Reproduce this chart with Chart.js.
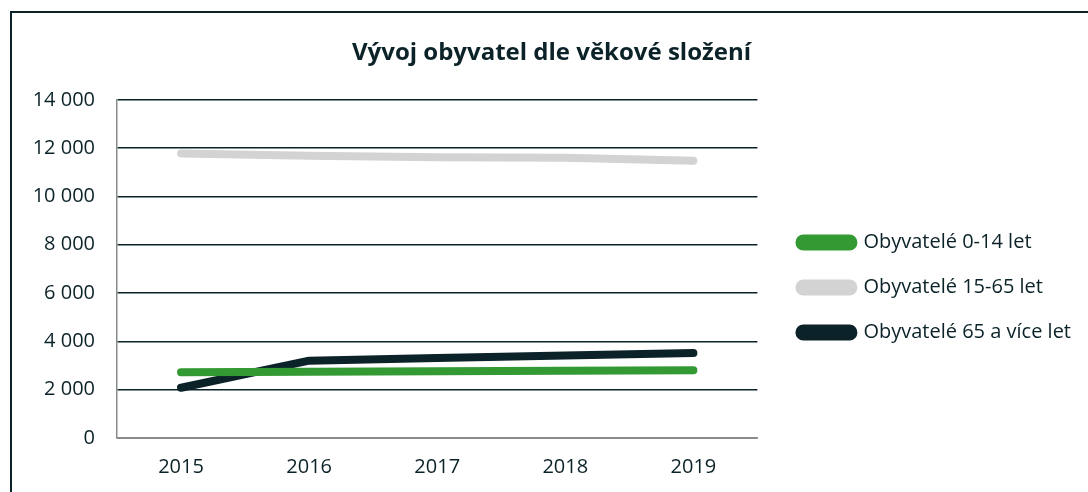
<!DOCTYPE html>
<html>
<head>
<meta charset="utf-8">
<script src="https://cdn.jsdelivr.net/npm/chart.js@4.4.0/dist/chart.umd.min.js"></script>
<style>
  html, body { margin: 0; padding: 0; background: #fff; }
  #ramecek {
    position: absolute; left: 10px; top: 11px;
    width: 1200px; height: 600px;
    border: 2px solid #0b2228;
  }
  #obal { position: absolute; left: 0; top: 0; width: 1088px; height: 492px; }
</style>
</head>
<body>
<div id="ramecek"></div>
<div id="obal"><canvas id="graf"></canvas></div>
<script>
// data
const roky = ["2015", "2016", "2017", "2018", "2019"];
const deti = [2720, 2740, 2760, 2780, 2800];
const dospeli = [11780, 11680, 11620, 11600, 11480];
const seniori = [2080, 3200, 3310, 3420, 3520];

const TMAVA = "#0b2228";
const font = "'Open Sans', sans-serif";

function formatCislo(v) {
  // mezera jako oddělovač tisíců
  return String(v).replace(/\B(?=(\d{3})+(?!\d))/g, " ");
}

const ctx = document.getElementById("graf").getContext("2d");

new Chart(ctx, {
  type: "line",
  data: {
    labels: roky,
    datasets: [
      { label: "Obyvatelé 0-14 let", data: deti, borderColor: "#339933", backgroundColor: "#339933" },
      { label: "Obyvatelé 15-65 let", data: dospeli, borderColor: "#d3d3d3", backgroundColor: "#d3d3d3" },
      { label: "Obyvatelé 65 a více let", data: seniori, borderColor: TMAVA, backgroundColor: TMAVA }
    ].map((d) => Object.assign(d, {
      borderWidth: 8,
      borderCapStyle: "round",
      borderJoinStyle: "round",
      pointRadius: 0,
      tension: 0
    }))
  },
  options: {
    responsive: true,
    maintainAspectRatio: false,
    animation: false,
    layout: { padding: { left: 22, right: 7, top: 0, bottom: 0 } },
    plugins: {
      title: {
        display: true,
        text: "Vývoj obyvatel dle věkové složení",
        color: TMAVA,
        font: { family: font, size: 24, weight: "bold" },
        padding: { top: 39, bottom: 32 }
      },
      legend: {
        position: "right",
        maxWidth: 316,
        title: { display: true, text: " ", font: { size: 20 }, padding: { top: 59, bottom: 0 } },
        labels: {
          color: TMAVA,
          font: { family: font, size: 20 },
          boxWidth: 54,
          boxHeight: 8,
          useBorderRadius: true,
          borderRadius: 4,
          padding: 25
        }
      },
      tooltip: { enabled: false }
    },
    scales: {
      x: {
        offset: true,
        afterFit: (scale) => { scale.height = 54; },
        grid: { display: false, drawTicks: false },
        border: { color: "#8a8a8a", width: 1.5 },
        ticks: { color: TMAVA, font: { family: font, size: 20 }, padding: 17 }
      },
      y: {
        min: 0,
        max: 14000,
        afterFit: (scale) => { scale.width = 95; },
        grid: { color: TMAVA, lineWidth: 1.5, drawTicks: false },
        border: { color: "#8a8a8a", width: 1.5 },
        ticks: {
          stepSize: 2000,
          color: TMAVA,
          font: { family: font, size: 20 },
          padding: 22,
          callback: (v) => formatCislo(v)
        }
      },
      // prázdná osa jen jako mezera mezi grafem a legendou
      mezera: {
        position: "right",
        afterFit: (scale) => { scale.width = 17; },
        grid: { display: false, drawTicks: false },
        border: { display: false },
        ticks: { display: false }
      }
    }
  }
});
</script>
</body>
</html>
